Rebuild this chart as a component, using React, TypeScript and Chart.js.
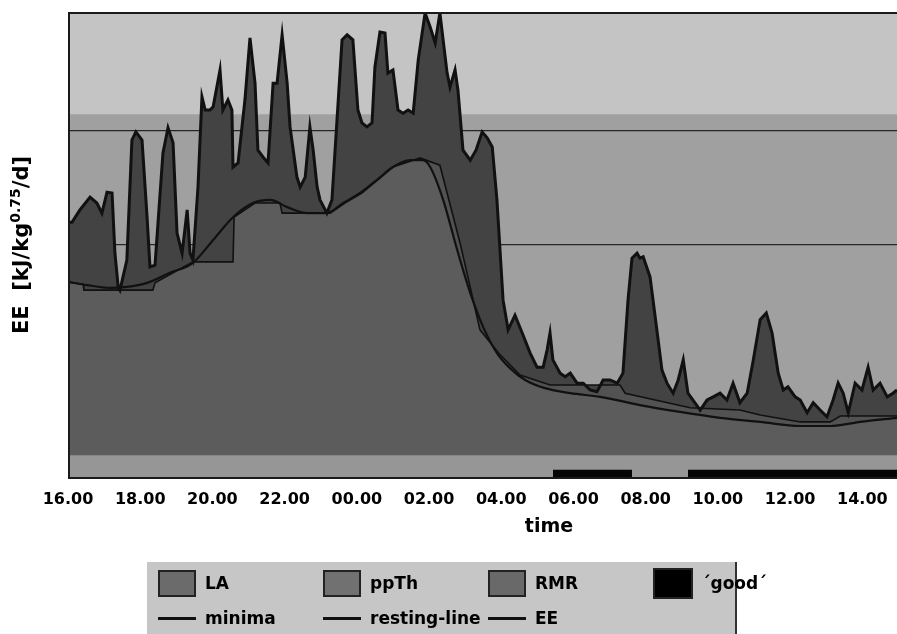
import React, { useEffect, useRef } from "react";
import { Chart, registerables } from "chart.js";

Chart.register(...registerables);

const FONT = "'DejaVu Sans', 'Liberation Sans', sans-serif";

// x axis: hours elapsed since 16.00
const timeLabels = ["16.00", "18.00", "20.00", "22.00", "00.00", "02.00", "04.00", "06.00", "08.00", "10.00", "12.00", "14.00"];

// total energy expenditure (EE)
const eeHours = [
  0, 0.11, 0.33, 0.61, 0.8, 0.94, 1.08, 1.22, 1.3, 1.39,
  1.44, 1.63, 1.77, 1.88, 2.05, 2.19, 2.27, 2.41, 2.63, 2.77,
  2.91, 3.02, 3.16, 3.3, 3.38, 3.46, 3.6, 3.71, 3.8, 3.93,
  4.02, 4.21, 4.29, 4.43, 4.54, 4.57, 4.71, 4.9, 5.04, 5.18,
  5.26, 5.4, 5.54, 5.68, 5.79, 5.93, 6.07, 6.15, 6.34, 6.43,
  6.57, 6.7, 6.79, 6.9, 6.98, 7.17, 7.31, 7.45, 7.59, 7.73,
  7.89, 8.03, 8.14, 8.28, 8.42, 8.5, 8.64, 8.78, 8.86, 9.0,
  9.14, 9.28, 9.42, 9.56, 9.7, 9.89, 10.03, 10.17, 10.3, 10.5,
  10.58, 10.72, 10.8, 10.94, 11.14, 11.3, 11.47, 11.61, 11.75, 11.88,
  12.05, 12.19, 12.38, 12.58, 12.8, 12.99, 13.16, 13.27, 13.35, 13.43,
  13.63, 13.77, 13.91, 14.1, 14.27, 14.46, 14.65, 14.82, 15.01, 15.21,
  15.37, 15.51, 15.62, 15.76, 15.84, 15.93, 16.12, 16.32, 16.45, 16.59,
  16.76, 16.9, 17.04, 17.17, 17.31, 17.51, 17.7, 17.87, 18.06, 18.25,
  18.42, 18.61, 18.81, 18.98, 19.17, 19.34, 19.5, 19.67, 19.81, 19.94,
  20.14, 20.28, 20.47, 20.64, 20.83, 21.02, 21.19, 21.33, 21.47, 21.61,
  21.8, 21.99, 22.16, 22.3, 22.49, 22.69, 22.85, 22.96,
];
const eeValues = [
  55.0, 55.0, 57.7, 60.5, 59.2, 57.0, 61.6, 61.4, 48.2, 40.8,
  40.1, 46.7, 73.0, 74.8, 73.0, 56.1, 45.2, 45.6, 70.2, 75.7,
  72.4, 52.6, 48.2, 57.7, 48.2, 46.7, 62.7, 82.5, 79.6, 79.6,
  80.3, 88.4, 79.6, 81.8, 79.6, 67.1, 68.0, 81.8, 95.4, 85.5,
  70.8, 69.3, 68.0, 85.5, 85.5, 96.1, 85.5, 75.9, 64.9, 62.7,
  64.9, 75.9, 70.8, 62.7, 59.9, 57.0, 59.9, 77.4, 95.0, 96.1,
  95.0, 79.6, 76.8, 75.9, 76.8, 89.0, 96.7, 96.5, 87.7, 88.4,
  79.6, 78.9, 79.6, 78.9, 90.6, 100.9, 97.8, 94.3, 100.9, 87.7,
  84.6, 88.4, 84.0, 70.8, 68.6, 70.8, 74.8, 73.5, 71.5, 59.9,
  37.9, 31.4, 34.6, 30.7, 26.3, 23.2, 23.2, 27.0, 30.7, 24.8,
  21.9, 21.1, 21.9, 19.7, 19.7, 18.2, 17.8, 20.4, 20.4, 19.7,
  21.9, 37.9, 47.1, 48.2, 47.1, 47.4, 43.0, 30.7, 22.6, 19.7,
  17.5, 20.4, 24.8, 17.5, 16.0, 13.8, 16.0, 16.7, 17.5, 16.0,
  19.7, 15.4, 17.5, 24.8, 33.6, 35.1, 30.7, 21.9, 18.2, 18.9,
  16.7, 16.0, 13.2, 15.4, 13.8, 12.3, 16.0, 19.7, 17.5, 13.2,
  19.7, 18.2, 23.2, 18.2, 19.7, 16.7, 17.5, 18.2,
];

// minima of EE (upper edge of ppTh)
const minimaHours = [
  0, 0.42, 0.44, 2.35, 2.41, 3.46, 4.57, 4.6, 5.18, 5.87,
  5.93, 7.26, 7.67, 8.14, 9.0, 9.75, 10.3, 10.86, 11.41, 11.97,
  12.52, 13.35, 15.29, 15.43, 17.23, 18.61, 19.17, 20.28, 21.11, 21.39,
  22.96,
];
const minimaValues = [
  41.9, 41.4, 40.1, 40.1, 41.7, 46.3, 46.3, 56.1, 59.2, 59.2,
  57.0, 57.0, 59.2, 61.4, 67.1, 69.1, 67.5, 50.4, 31.4, 25.9,
  21.5, 19.3, 19.3, 17.5, 14.3, 13.8, 12.7, 11.2, 11.2, 12.5,
  12.5,
];

// resting metabolic rate (resting-line, top of RMR)
const restingHours = [
  0, 0.53, 1.16, 1.63, 2.19, 2.82, 3.46, 4.02, 4.57, 5.12,
  5.6, 6.07, 6.62, 7.17, 7.62, 8.09, 8.56, 9.0, 9.47, 9.83,
  10.03, 10.39, 10.78, 11.14, 11.5, 11.88, 12.24, 12.66, 13.21, 13.91,
  14.74, 15.84, 16.95, 18.06, 19.17, 20.28, 21.11, 21.94, 22.96,
];
const restingValues = [
  41.9, 41.2, 40.6, 40.8, 41.7, 43.9, 46.1, 51.1, 56.1, 59.2,
  59.9, 58.3, 57.0, 57.0, 59.2, 61.4, 64.3, 67.1, 68.6, 68.6,
  67.1, 59.9, 48.9, 39.5, 32.0, 26.3, 23.0, 20.4, 18.6, 17.5,
  16.7, 14.9, 13.4, 12.1, 11.2, 10.3, 10.3, 11.2, 12.1,
];

// 'good' measurement periods, shown on the quality track under the curves
const goodStarts = [13.43, 17.17];
const goodEnds = [15.62, 22.96];
const goodLevel = 0.7;
const trackHours = [0, 22.96];
const trackLevel = 3.9;

const xMax = 22.96;
const yMin = -1.1;
const yMax = 101.1;
const gridValues = [50, 75];
const wallSplitValue = 78.7;

const COLORS = {
  wallTop: "#c4c4c4",
  wallLow: "#a0a0a0",
  grid: "#262626",
  la: "#434343",
  ppTh: "#525252",
  rmr: "#5c5c5c",
  track: "#969696",
  good: "#050505",
  line: "#111111",
};

const legendItems = [
  { label: "LA", kind: "box", color: "#6b6b6b" },
  { label: "ppTh", kind: "box", color: "#717171" },
  { label: "RMR", kind: "box", color: "#696969" },
  { label: "\u00B4good\u00B4", kind: "box", color: "#000000" },
  { label: "minima", kind: "line", color: "#111111" },
  { label: "resting-line", kind: "line", color: "#111111" },
  { label: "EE", kind: "line", color: "#111111" },
];

const pairs = (xs: number[], ys: number[]) => xs.map((x, i) => ({ x, y: ys[i] }));

const goodSeries = () => {
  const out: { x: number; y: number | null }[] = [];
  goodStarts.forEach((s, i) => {
    out.push({ x: s, y: goodLevel }, { x: goodEnds[i], y: goodLevel }, { x: goodEnds[i], y: null });
  });
  return out;
};

const decor = {
  id: "decor",
  beforeDraw(chart: any) {
    const { ctx, chartArea: a } = chart;
    const split = chart.scales.y.getPixelForValue(wallSplitValue);
    ctx.save();
    ctx.fillStyle = COLORS.wallTop;
    ctx.fillRect(a.left, a.top, a.right - a.left, split - a.top);
    ctx.fillStyle = COLORS.wallLow;
    ctx.fillRect(a.left, split, a.right - a.left, a.bottom - split);
    ctx.restore();
  },
  afterDraw(chart: any) {
    const { ctx, chartArea: a } = chart;
    ctx.save();
    // plot frame
    ctx.strokeStyle = "#1a1a1a";
    ctx.lineWidth = 2;
    ctx.beginPath();
    ctx.moveTo(a.right, a.top + 1);
    ctx.lineTo(a.left + 1, a.top + 1);
    ctx.lineTo(a.left + 1, a.bottom);
    ctx.lineTo(a.right, a.bottom);
    ctx.stroke();

    // x axis title
    ctx.fillStyle = "#000";
    ctx.font = `bold 19px ${FONT}`;
    ctx.textAlign = "center";
    ctx.textBaseline = "middle";
    ctx.fillText("time", 549, 527);

    // y axis title with superscript exponent
    const parts = [
      { t: "EE  [kJ/kg", f: `bold 21px ${FONT}`, dy: 0 },
      { t: "0.75", f: `bold 14px ${FONT}`, dy: -7 },
      { t: "/d]", f: `bold 21px ${FONT}`, dy: 0 },
    ];
    let total = 0;
    const widths = parts.map((p) => {
      ctx.font = p.f;
      const w = ctx.measureText(p.t).width;
      total += w;
      return w;
    });
    ctx.translate(23, (a.top + a.bottom) / 2);
    ctx.rotate(-Math.PI / 2);
    ctx.textAlign = "left";
    let x = -total / 2;
    parts.forEach((p, i) => {
      ctx.font = p.f;
      ctx.fillText(p.t, x, p.dy);
      x += widths[i];
    });
    ctx.restore();
  },
};

function EnergyChart() {
  const ref = useRef<HTMLCanvasElement | null>(null);

  useEffect(() => {
    if (!ref.current) return;
    const chart = new Chart(ref.current, {
      type: "line",
      data: {
        datasets: [
          {
            label: "\u00B4good\u00B4",
            data: goodSeries(),
            fill: "start",
            backgroundColor: COLORS.good,
            borderColor: COLORS.good,
            borderWidth: 0,
            pointRadius: 0,
            spanGaps: false,
          },
          {
            label: "track",
            data: pairs(trackHours, trackHours.map(() => trackLevel)),
            fill: "start",
            backgroundColor: COLORS.track,
            borderWidth: 0,
            pointRadius: 0,
          },
          {
            label: "EE",
            data: pairs(eeHours, eeValues),
            fill: 3,
            backgroundColor: COLORS.la,
            borderColor: COLORS.line,
            borderWidth: 3,
            pointRadius: 0,
            tension: 0,
          },
          {
            label: "minima",
            data: pairs(minimaHours, minimaValues),
            fill: 4,
            backgroundColor: COLORS.ppTh,
            borderColor: COLORS.line,
            borderWidth: 1.6,
            pointRadius: 0,
            tension: 0,
          },
          {
            label: "resting-line",
            data: pairs(restingHours, restingValues),
            fill: "start",
            backgroundColor: COLORS.rmr,
            borderColor: COLORS.line,
            borderWidth: 2.2,
            pointRadius: 0,
            cubicInterpolationMode: "monotone",
          },
        ],
      },
      options: {
        animation: false,
        responsive: false,
        devicePixelRatio: 1,
        layout: { padding: { left: 68, top: 12, right: 0, bottom: 0 } },
        plugins: {
          legend: { display: false },
          tooltip: { enabled: false },
          filler: { drawTime: "beforeDatasetsDraw" },
        },
        scales: {
          x: {
            type: "linear",
            min: 0,
            max: xMax,
            grid: { display: false, drawTicks: false },
            border: { display: false },
            ticks: {
              stepSize: 2,
              includeBounds: false,
              autoSkip: false,
              maxRotation: 0,
              padding: 12,
              color: "#000",
              font: { family: FONT, size: 16, weight: "bold" },
              callback: (v: any) => {
                const n = Number(v);
                return n % 2 === 0 ? timeLabels[n / 2] : "";
              },
            },
            afterFit: (s: any) => {
              s.height = 156;
              s.paddingLeft = 0;
              s.paddingRight = 0;
            },
          },
          y: {
            min: yMin,
            max: yMax,
            grid: { color: COLORS.grid, lineWidth: 1.3, drawTicks: false },
            border: { display: false },
            ticks: { display: false },
            afterBuildTicks: (s: any) => {
              s.ticks = gridValues.map((value) => ({ value }));
            },
            afterFit: (s: any) => {
              s.width = 0;
            },
          },
        },
      },
      plugins: [decor],
    } as any);
    return () => chart.destroy();
  }, []);

  return <canvas ref={ref} width={897} height={634} style={{ display: "block" }} />;
}

function Legend() {
  return (
    <div
      style={{
        position: "absolute",
        left: 147,
        top: 562,
        width: 590,
        height: 72,
        background: "#c6c6c6",
        borderRight: "2px solid #333",
        boxSizing: "border-box",
        fontFamily: FONT,
        fontWeight: "bold",
        fontSize: 17,
        color: "#000",
      }}
    >
      {legendItems.map((item, i) => {
        const col = i % 4;
        const row = Math.floor(i / 4);
        const cy = 21 + row * 35;
        const sx = 11 + col * 165;
        const isGood = item.color === "#000000";
        const w = isGood ? 40 : 38;
        const h = isGood ? 31 : 27;
        return (
          <React.Fragment key={item.label}>
            {item.kind === "box" ? (
              <div
                style={{
                  position: "absolute",
                  left: sx,
                  top: cy - h / 2,
                  width: w,
                  height: h,
                  background: item.color,
                  border: "2px solid #222",
                  boxSizing: "border-box",
                }}
              />
            ) : (
              <div
                style={{
                  position: "absolute",
                  left: sx,
                  top: cy - 1,
                  width: 38,
                  height: 2.5,
                  background: item.color,
                }}
              />
            )}
            <div
              style={{
                position: "absolute",
                left: sx + (isGood ? 49 : 47),
                top: cy - 12,
                height: 24,
                lineHeight: "24px",
                whiteSpace: "nowrap",
              }}
            >
              {item.label}
            </div>
          </React.Fragment>
        );
      })}
    </div>
  );
}

export default function App() {
  return (
    <div style={{ position: "absolute", left: 0, top: 0, width: 897, height: 634, overflow: "hidden", background: "#fff" }}>
      <EnergyChart />
      <Legend />
    </div>
  );
}
